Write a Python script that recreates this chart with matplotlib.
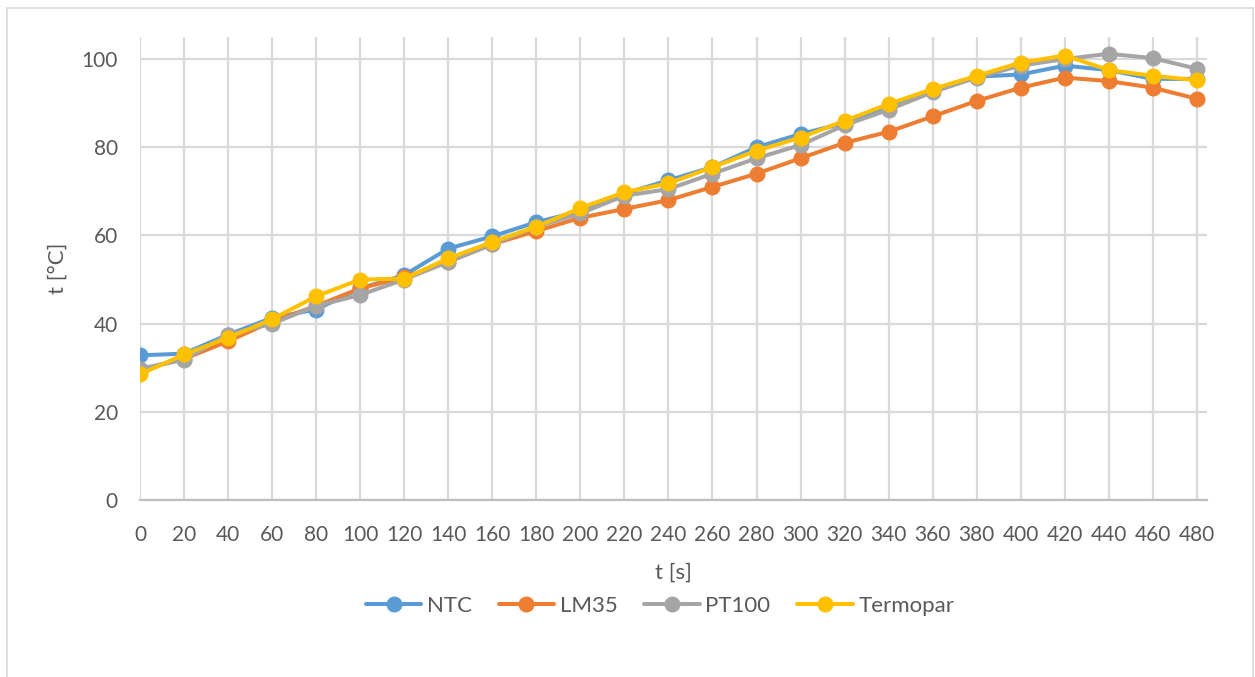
import matplotlib
matplotlib.use("Agg")
import matplotlib.pyplot as plt
from matplotlib.patches import Rectangle

t_s = [0, 20, 40, 60, 80, 100, 120, 140, 160, 180, 200, 220, 240, 260, 280,
       300, 320, 340, 360, 380, 400, 420, 440, 460, 480]
ntc = [32.8, 33.2, 37.5, 41.3, 43.2, 48.0, 51.0, 57.0, 59.8, 63.0, 65.5, 69.5,
       72.5, 75.5, 80.0, 83.0, 85.5, 89.5, 93.0, 96.0, 96.5, 98.5, 97.5, 95.5, 95.5]
lm35 = [29.5, 32.0, 36.0, 40.5, 44.0, 48.0, 50.5, 54.0, 58.0, 61.0, 64.0, 66.0,
        68.0, 71.0, 74.0, 77.5, 81.0, 83.5, 87.0, 90.5, 93.5, 95.8, 95.0, 93.5, 91.0]
pt100 = [29.8, 31.8, 37.5, 40.0, 44.0, 46.5, 50.0, 54.0, 58.0, 62.0, 65.0, 69.0,
         70.5, 74.0, 77.5, 80.5, 85.0, 88.5, 92.5, 95.8, 98.5, 100.0, 101.2, 100.2, 97.8]
termopar = [28.5, 33.0, 36.8, 41.0, 46.2, 50.0, 50.2, 54.8, 58.5, 62.0, 66.2, 69.8,
            71.8, 75.5, 79.2, 82.2, 86.0, 89.8, 93.2, 96.2, 99.2, 100.8, 97.5, 96.2, 95.2]

series = [("NTC", ntc, "#5B9BD5"), ("LM35", lm35, "#ED7D31"),
          ("PT100", pt100, "#A5A5A5"), ("Termopar", termopar, "#FFC000")]
y_ticks = [0, 20, 40, 60, 80, 100]

plt.rcParams['font.family'] = ['Lato', 'DejaVu Sans']
txt = "#595959"
W, H = 1255, 677
fig = plt.figure(figsize=(W / 100, H / 100), dpi=100)
fig.patches.append(Rectangle((7 / W, -0.01), (1253 - 7) / W, 1 - 8 / H + 0.01,
                             transform=fig.transFigure, fill=False,
                             edgecolor="#D9D9D9", lw=1.2))
ax = fig.add_axes([140 / W, 1 - 500 / H, (1207 - 140) / W, (500 - 37) / H])

for name, vals, col in series:
    ax.plot(t_s, vals, color=col, lw=2.9, marker="o", markersize=10.5,
            label=name, zorder=3, solid_capstyle="round")

ax.set_xlim(0, 484.6)
ax.set_ylim(0, 105)
ax.set_xticks(t_s)
ax.set_yticks(y_ticks)
ax.grid(True, color="#D9D9D9", lw=1.6)
ax.set_axisbelow(True)
for s in ["top", "right", "left"]:
    ax.spines[s].set_visible(False)
ax.spines["bottom"].set_color("#BFBFBF")
ax.spines["bottom"].set_linewidth(1.6)
ax.tick_params(length=0, labelsize=15, labelcolor=txt)
ax.tick_params(axis="x", pad=18)
ax.tick_params(axis="y", pad=16)
ax.set_xlabel("t [s]", fontsize=16, color=txt, labelpad=13)
ax.set_ylabel("t [°C]", fontsize=16, color=txt, labelpad=10)

leg = fig.legend(loc="center", bbox_to_anchor=(660 / W, 1 - 606 / H), ncol=4,
                 frameon=False, fontsize=16, handlelength=2.5, columnspacing=1.2,
                 handletextpad=0.25, labelcolor=txt)

fig.savefig("out.png", dpi=100)
